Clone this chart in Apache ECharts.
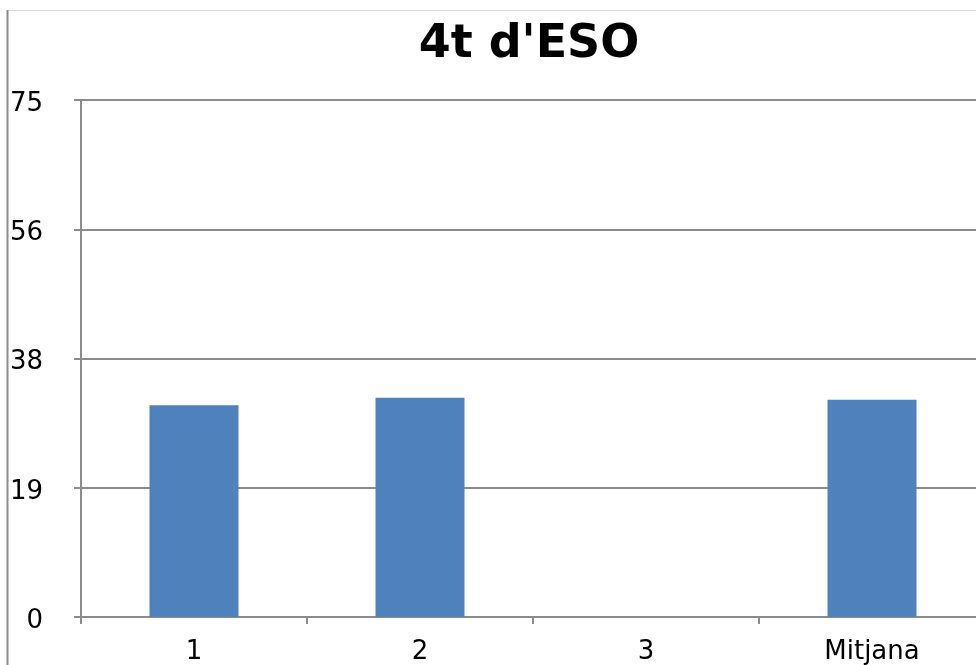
<!DOCTYPE html>
<html><head><meta charset="utf-8">
<script src="https://cdn.jsdelivr.net/npm/echarts@6/dist/echarts.min.js"></script>
<style>html,body{margin:0;padding:0;background:#fff;overflow:hidden;width:976px;height:665px}#c{width:985px;height:665px}</style>
</head><body><div id="c"></div>
<script>
const titleText = "4t d'ESO";
const categories = ['1', '2', '3', 'Mitjana'];
const values = [30.7, 31.8, null, 31.5];
const yMin = 0, yMax = 75, yInterval = 18.75;

const chart = echarts.init(document.getElementById('c'), null, {renderer: 'canvas'});
const font = '"DejaVu Sans", Verdana, sans-serif';
chart.setOption({
  backgroundColor: '#fff',
  animation: false,
  title: {
    text: titleText, left: 524, top: 17, textAlign: 'center',
    textStyle: {fontFamily: font, fontWeight: 'bold', fontSize: 46, color: '#000'}
  },
  graphic: [
    {type: 'line', shape: {x1: 7, y1: 10.5, x2: 985, y2: 10.5}, style: {stroke: '#d9d9d9', lineWidth: 1}, silent: true},
    {type: 'line', shape: {x1: 7.5, y1: 10, x2: 7.5, y2: 665}, style: {stroke: '#8c8c8c', lineWidth: 2}, silent: true}
  ],
  grid: {left: 81, top: 100, right: 0, bottom: 48, containLabel: false},
  xAxis: {
    type: 'category', data: categories,
    axisLine: {show: true, lineStyle: {color: '#8c8c8c', width: 2}},
    axisTick: {show: true, length: 7, lineStyle: {color: '#8c8c8c', width: 2}},
    axisLabel: {fontFamily: font, fontSize: 26, color: '#000', margin: 22}
  },
  yAxis: {
    type: 'value', min: yMin, max: yMax, interval: yInterval,
    axisLine: {show: true, lineStyle: {color: '#8c8c8c', width: 2}},
    axisTick: {show: true, length: 7, lineStyle: {color: '#8c8c8c', width: 2}},
    splitLine: {show: true, lineStyle: {color: '#8c8c8c', width: 2}},
    axisLabel: {fontFamily: font, fontSize: 26, color: '#000', margin: 38,
      verticalAlign: 'top', lineHeight: 8,
      formatter: v => String(Math.round(v))}
  },
  series: [{
    type: 'bar', data: values, barWidth: 89,
    itemStyle: {color: '#4f81bd'}
  }]
});
</script></body></html>
